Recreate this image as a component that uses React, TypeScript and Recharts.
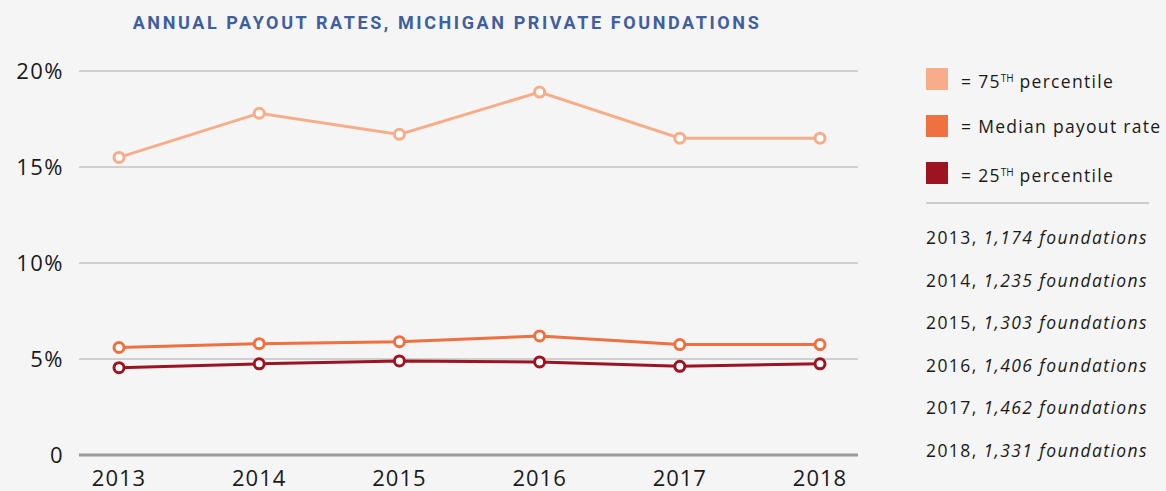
import React from 'react'
import {
  LineChart,
  Line,
  XAxis,
  YAxis,
  CartesianGrid,
  ReferenceLine
} from 'recharts'

// Years on the x axis
const years = ['2013', '2014', '2015', '2016', '2017', '2018']

// Payout rates (%)
const p75 = [15.5, 17.8, 16.7, 18.9, 16.5, 16.5]
const median = [5.6, 5.8, 5.9, 6.2, 5.75, 5.75]
const p25 = [4.55, 4.75, 4.9, 4.85, 4.62, 4.75]

const yTicks = [0, 5, 10, 15, 20]

const foundationCounts = ['1,174', '1,235', '1,303', '1,406', '1,462', '1,331']

const COLORS = {
  p75: '#f7ad89',
  median: '#ef7040',
  p25: '#9c1421'
}

const FONT = '"Open Sans", Lato, sans-serif'

const data = years.map((year, i) => ({
  year,
  p75: p75[i],
  median: median[i],
  p25: p25[i]
}))

const Dot = (props: any) => {
  const { cx, cy, stroke } = props
  if (cx == null || cy == null) return null
  return <circle cx={cx} cy={cy} r={5} fill="#ffffff" stroke={stroke} strokeWidth={3} />
}

export default function App() {
  const sup = { fontSize: 10, verticalAlign: 6, letterSpacing: 0 }
  const legendItems = [
    { color: COLORS.p75, label: <>= 75<sup style={sup}>TH</sup> percentile</> },
    { color: COLORS.median, label: <>= Median payout rate</> },
    { color: COLORS.p25, label: <>= 25<sup style={sup}>TH</sup> percentile</> }
  ]

  return (
    <div
      style={{
        position: 'fixed',
        left: 0,
        top: 0,
        width: 1166,
        height: 491,
        background: '#f5f5f5',
        overflow: 'hidden',
        fontFamily: FONT
      }}
    >
      {/* Title */}
      <div
        style={{
          position: 'absolute',
          left: 0,
          width: 894,
          top: 12,
          textAlign: 'center',
          color: '#3f5f9f',
          fontWeight: 700,
          fontSize: 18,
          letterSpacing: 2.6,
          fontFamily: 'Roboto, sans-serif'
        }}
      >
        ANNUAL PAYOUT RATES, MICHIGAN PRIVATE FOUNDATIONS
      </div>

      <div style={{ position: 'absolute', left: 0, top: 0 }}>
        <LineChart
          width={880}
          height={491}
          data={data}
          margin={{ top: 71, right: 22, bottom: 0, left: 9 }}
        >
          <CartesianGrid horizontal vertical={false} stroke="#aaaaaa" strokeWidth={1} />
          <XAxis
            dataKey="year"
            axisLine={false}
            tickLine={false}
            tickSize={0}
            tickMargin={15}
            height={36}
            padding={{ left: 40, right: 38 }}
            tick={{ fill: '#1a1a1a', fontSize: 22, fontFamily: FONT, letterSpacing: 1 }}
          />
          <YAxis
            domain={[0, 20]}
            ticks={yTicks}
            width={70}
            axisLine={false}
            tickLine={false}
            tickSize={0}
            tickMargin={15}
            tickFormatter={(v: number) => (v === 0 ? '0' : `${v}%`)}
            tick={{ fill: '#1a1a1a', fontSize: 22, fontFamily: FONT, letterSpacing: 1.5 }}
          />
          <ReferenceLine y={0} stroke="#9a9a9a" strokeWidth={3} />
          <Line
            dataKey="p75"
            stroke={COLORS.p75}
            strokeWidth={3}
            dot={<Dot />}
            isAnimationActive={false}
          />
          <Line
            dataKey="median"
            stroke={COLORS.median}
            strokeWidth={3}
            dot={<Dot />}
            isAnimationActive={false}
          />
          <Line
            dataKey="p25"
            stroke={COLORS.p25}
            strokeWidth={3}
            dot={<Dot />}
            isAnimationActive={false}
          />
        </LineChart>
      </div>

      {/* Legend */}
      <div style={{ position: 'absolute', left: 926, top: 68, color: '#1a1a1a', fontSize: 17.5 }}>
        {legendItems.map((item, i) => (
          <div
            key={i}
            style={{ display: 'flex', alignItems: 'center', height: 22, marginBottom: i < 2 ? 25 : 0 }}
          >
            <div style={{ width: 22, height: 22, background: item.color, marginRight: 13 }} />
            <span style={{ whiteSpace: 'nowrap', lineHeight: '22px', letterSpacing: 1.3 }}>{item.label}</span>
          </div>
        ))}
      </div>
      <div
        style={{
          position: 'absolute',
          left: 926,
          top: 202,
          width: 223,
          height: 2,
          background: '#cccccc'
        }}
      />
      <div style={{ position: 'absolute', left: 926, top: 226, color: '#1a1a1a', fontSize: 17.5 }}>
        {years.map((year, i) => (
          <div key={year} style={{ height: 42.6, lineHeight: '22px', whiteSpace: 'nowrap', letterSpacing: 1.4 }}>
            {year}, <i>{foundationCounts[i]} foundations</i>
          </div>
        ))}
      </div>
    </div>
  )
}
